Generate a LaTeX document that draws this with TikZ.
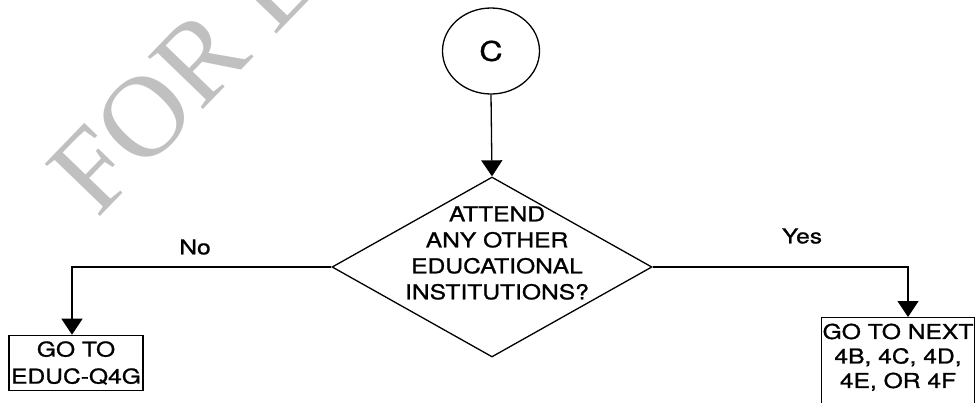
\documentclass[tikz,border=0pt]{standalone}
\usepackage{fontspec}
\setmainfont{TeX Gyre Heros}[FakeStretch=1.2, FakeBold=1]
\newfontfamily\wmfont{Liberation Serif}
\usetikzlibrary{shapes.geometric,arrows.meta}
\definecolor{wmgray}{RGB}{192,192,192}
\tikzset{
  lab/.style={font=\fontsize{20.5}{26}\selectfont, inner sep=0pt, align=center},
  dia/.style={draw, diamond, minimum width=320pt, minimum height=180pt, inner sep=0pt},
  gobox/.style={draw, rectangle, inner xsep=1pt, inner ysep=6pt, align=center},
  arr/.style={-{Triangle[width=21pt,length=16pt]}},
  wm/.style={text=wmgray, font=\wmfont\fontsize{116}{116}\selectfont, inner sep=0pt}
}
\begin{document}
\begin{tikzpicture}[x=1pt, y=-1pt, line width=1.3pt]
\useasboundingbox (0,0) rectangle (979,402);
\clip (0,0) rectangle (979,402);
% watermark
\node[wm, rotate=46, anchor=base west] (w) at (97,220) {FOR L};
% start circle
\node[draw, ellipse, minimum width=97pt, minimum height=86pt, inner sep=0pt,
      font=\fontsize{27}{27}\selectfont] (c) at (491,51) {C};
% decision
\node[dia] (q) at (492,267) {};
\node[lab] (qt) at (497,253) {ATTEND\\ANY OTHER\\EDUCATIONAL\\INSTITUTIONS?};
% outcomes
\node[gobox, minimum width=134pt, minimum height=54pt,
      font=\fontsize{20.5}{27}\selectfont] (no) at (76,363) {GO TO\\EDUC-Q4G};
\node[gobox, anchor=north, minimum width=152pt,
      font=\fontsize{20.5}{24.5}\selectfont] (yes) at (898,317)
      {GO TO NEXT\\4B, 4C, 4D,\\4E, OR 4F\rule[-50pt]{0pt}{0pt}};
% labels
\node[lab] (nol) at (195,247) {No};
\node[lab] (yesl) at (802,236) {Yes};
% connectors
\draw[arr] (c.south) -- (q.north);
\draw[arr] (q.west) -| ([xshift=-4pt]no.north);
\draw[arr] (q.east) -| ([xshift=10pt]yes.north);
\end{tikzpicture}
\end{document}
